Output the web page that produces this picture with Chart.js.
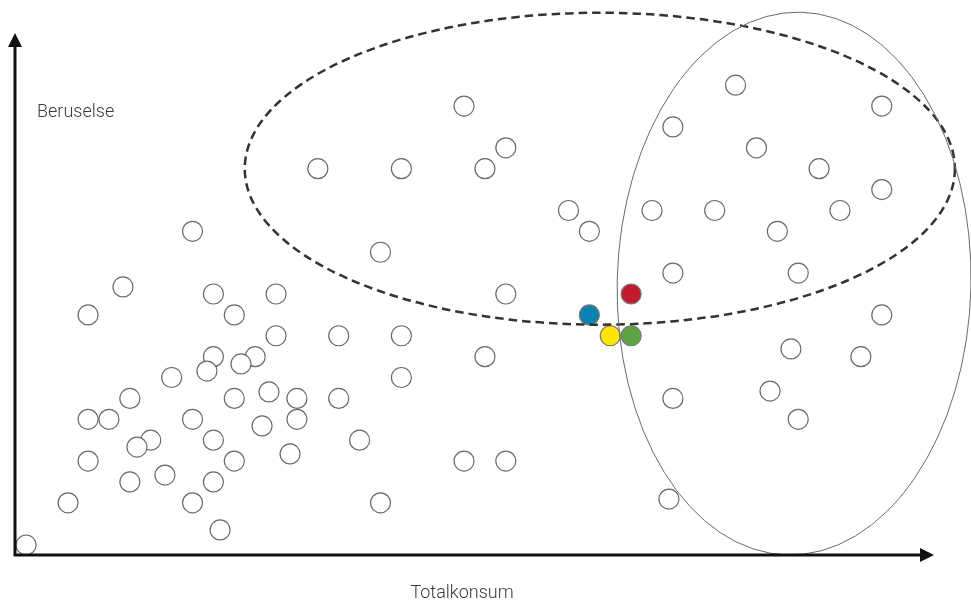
<!DOCTYPE html>
<html>
<head>
<meta charset="utf-8">
<title>Beruselse og totalkonsum</title>
<script src="https://cdn.jsdelivr.net/npm/chart.js@4.4.1/dist/chart.umd.min.js"></script>
<style>
    html, body { margin: 0; padding: 0; background: #fff; }
    #wrap { width: 971px; height: 600px; position: relative; }
</style>
</head>
<body>
<div id="wrap"><canvas id="myChart"></canvas></div>
<script>
// axis names
const xTitle = 'Totalkonsum';
const yTitle = 'Beruselse';

// the grey respondents (x = totalkonsum, y = beruselse)
const pointsX = [21.5, 34.5, 41.5, 31.5, 23.5, 35.5, 14.5, 18.5, 22.5, 38.5,
    41.5, 26.5, 30.5, 33.5, 39.5, 8.5, 27.5, 36.5, 17.5, 31.5,
    37.5, 5.17, 9.5, 12.5, 23.5, 3.5, 10.5, 41.5, 12.5, 15.5,
    18.5, 9.5, 11.5, 10.82, 22.5, 37.15, 40.5, 9.19, 7.5, 18.5,
    36.15, 5.5, 10.5, 12.16, 13.5, 15.5, 31.5, 3.5, 4.5, 8.5,
    11.83, 13.5, 37.5, 6.5, 5.84, 9.5, 16.5, 13.17, 3.5, 10.5,
    21.5, 23.5, 7.18, 5.5, 9.5, 2.54, 8.5, 17.5, 31.31, 9.82, 0.53];
const pointsY = [21.5, 22.5, 21.5, 20.5, 19.5, 19.5, 18.5, 18.5, 18.5, 18.5,
    17.5, 16.5, 16.5, 16.5, 16.5, 15.5, 15.5, 15.5, 14.5, 13.5,
    13.5, 12.84, 12.5, 12.5, 12.5, 11.5, 11.5, 11.5, 10.5, 10.5,
    10.5, 9.5, 9.5, 9.15, 9.5, 9.87, 9.5, 8.81, 8.5, 8.5,
    7.85, 7.5, 7.5, 7.81, 7.5, 7.5, 7.5, 6.5, 6.5, 6.5,
    6.18, 6.5, 6.5, 5.5, 5.17, 5.5, 5.5, 4.84, 4.5, 4.5,
    4.5, 4.5, 3.83, 3.5, 3.5, 2.5, 2.5, 2.5, 2.68, 1.2, 0.48];

// the four coloured ones: blue, red, yellow, green
const markedX = [27.5, 29.5, 28.5, 29.5];
const markedY = [11.5, 12.5, 10.5, 10.5];

// the two groups: dashed ring (high beruselse), thin ring (high totalkonsum)
const ringX = [28.0, 37.3];
const ringY = [18.5, 13.0];
const ringRx = [17.0, 8.47];
const ringRy = [7.47, 13.0];

const toPoints = (xs, ys) => xs.map((v, i) => ({ x: v, y: ys[i] }));

const decorations = {
    id: 'decorations',
    afterDatasetsDraw(chart) {
        const { ctx, chartArea: area, scales: { x, y } } = chart;
        const styles = [
            { width: 2.5, color: '#333', dash: [8.5, 5], tilt: 0 },
            { width: 1, color: '#6a6a6a', dash: [], tilt: 0.025 }
        ];

        ringX.forEach((cx, i) => {
            const px = x.getPixelForValue(cx);
            const py = y.getPixelForValue(ringY[i]);
            const rx = Math.abs(x.getPixelForValue(cx + ringRx[i]) - px);
            const ry = Math.abs(y.getPixelForValue(ringY[i] + ringRy[i]) - py);
            ctx.save();
            ctx.beginPath();
            ctx.ellipse(px, py, rx, ry, styles[i].tilt, 0, Math.PI * 2);
            ctx.lineWidth = styles[i].width;
            ctx.strokeStyle = styles[i].color;
            ctx.setLineDash(styles[i].dash);
            ctx.stroke();
            ctx.restore();
        });

        // axes with arrow heads
        ctx.save();
        ctx.strokeStyle = '#111';
        ctx.fillStyle = '#111';
        ctx.lineWidth = 3;
        ctx.beginPath();
        ctx.moveTo(area.left, area.top + 12);
        ctx.lineTo(area.left, area.bottom);
        ctx.lineTo(area.right - 12, area.bottom);
        ctx.stroke();

        ctx.beginPath();
        ctx.moveTo(area.left, area.top);
        ctx.lineTo(area.left - 7, area.top + 14);
        ctx.lineTo(area.left + 7, area.top + 14);
        ctx.closePath();
        ctx.fill();

        ctx.beginPath();
        ctx.moveTo(area.right, area.bottom);
        ctx.lineTo(area.right - 14, area.bottom - 7);
        ctx.lineTo(area.right - 14, area.bottom + 7);
        ctx.closePath();
        ctx.fill();

        // axis names
        ctx.font = '300 18px Roboto';
        ctx.fillStyle = '#3a3a3a';
        ctx.textBaseline = 'alphabetic';
        ctx.textAlign = 'left';
        ctx.fillText(yTitle, area.left + 22, 117);
        ctx.textAlign = 'center';
        ctx.fillText(xTitle, 462, 598);
        ctx.restore();
    }
};

const config = {
    type: 'scatter',
    data: {
        datasets: [
            {
                label: 'Respondenter',
                data: toPoints(pointsX, pointsY),
                pointRadius: 10,
                pointHoverRadius: 10,
                pointBackgroundColor: '#fff',
                pointBorderColor: '#6a6a6a',
                pointBorderWidth: 1.2,
                clip: false
            },
            {
                label: 'Utvalgte',
                data: toPoints(markedX, markedY),
                pointRadius: 10,
                pointHoverRadius: 10,
                pointBackgroundColor: ['#0b84b3', '#c21b2e', '#ffe600', '#5ea445'],
                pointBorderColor: '#777',
                pointBorderWidth: 1.2,
                clip: false
            }
        ]
    },
    options: {
        responsive: true,
        maintainAspectRatio: false,
        animation: false,
        layout: {
            padding: { left: 15, top: 33, right: 37, bottom: 45 }
        },
        scales: {
            x: { type: 'linear', min: 0, max: 44, display: false },
            y: { type: 'linear', min: 0, max: 25, display: false }
        },
        plugins: {
            legend: { display: false },
            tooltip: { enabled: false }
        }
    },
    plugins: [decorations]
};

new Chart(document.getElementById('myChart'), config);
</script>
</body>
</html>
